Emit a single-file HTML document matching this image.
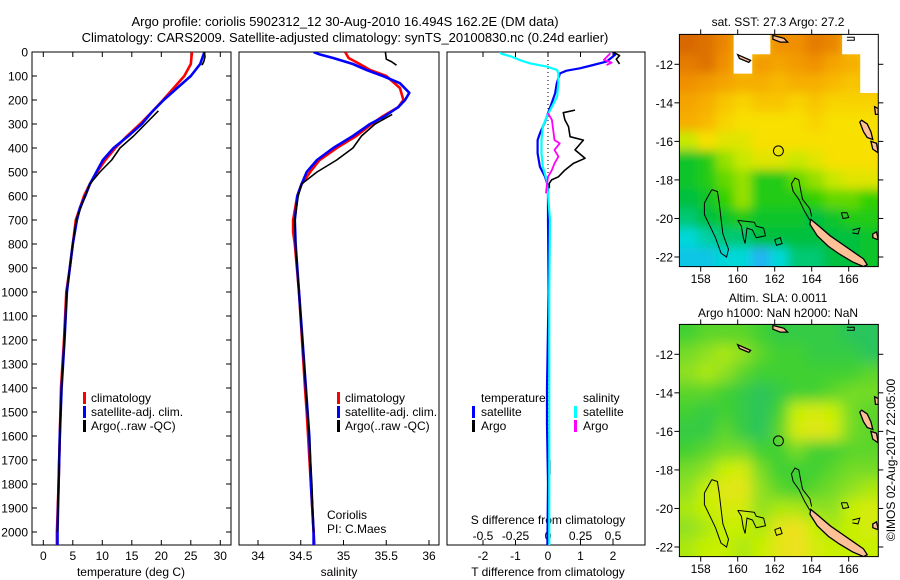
<!DOCTYPE html>
<html><head><meta charset="utf-8"><style>
html,body{margin:0;padding:0;background:#fff;}
svg{display:block;font-family:"Liberation Sans",sans-serif;}
text{font-family:"Liberation Sans",sans-serif;fill:#000;}
</style></head><body>
<svg id="fig" width="900" height="580" viewBox="0 0 900 580" xmlns="http://www.w3.org/2000/svg">
<defs>
<clipPath id="c1"><rect x="32" y="52" width="199" height="493"/></clipPath>
<clipPath id="c2"><rect x="239" y="52" width="200" height="493"/></clipPath>
<clipPath id="c3"><rect x="447" y="52" width="198" height="493"/></clipPath>
<clipPath id="cm1"><rect x="679.4" y="34.4" width="198.9" height="232.2"/></clipPath>
<clipPath id="cm2"><rect x="679.4" y="324.4" width="198.9" height="232.2"/></clipPath>
<filter id="blur" x="-5%" y="-5%" width="110%" height="110%"><feGaussianBlur stdDeviation="5"/></filter>
<filter id="blur2" x="-5%" y="-5%" width="110%" height="110%"><feGaussianBlur stdDeviation="7"/></filter>
</defs>
<text x="345" y="26" text-anchor="middle" font-size="13">Argo profile: coriolis 5902312_12 30-Aug-2010 16.494S 162.2E (DM data)</text>
<text x="345" y="42" text-anchor="middle" font-size="13">Climatology: CARS2009. Satellite-adjusted climatology: synTS_20100830.nc (0.24d earlier)</text>
<g id="layer"></g>
</svg>
<script>
// ---------- temperature profile data ----------
const tClimDepth=[0,50,100,150,200,250,300,350,400,450,500,550,600,700,800,900,1000,1200,1400,1600,1800,2000,2055];
const tClimVal=[25.2,25.0,23.9,22.1,20.3,18.4,16.4,14.2,12.2,10.5,9.1,7.9,6.9,5.5,5.0,4.5,3.9,3.5,3.0,2.8,2.6,2.3,2.3];
const tSatDepth=[0,50,100,150,200,250,300,350,400,450,500,550,600,650,700,800,900,1000,1200,1400,1600,1800,2000,2055];
const tSatVal=[27.3,26.6,25.0,22.7,20.4,18.4,16.7,14.4,11.9,10.1,9.0,7.9,7.1,6.2,5.7,5.0,4.5,4.0,3.6,3.1,2.8,2.6,2.4,2.4];
const tArgoDepth1=[0,20,40,55];
const tArgoVal1=[27.3,27.4,27.2,26.9];
const tArgoDepth2=[245,300,350,400,450,500,550,600,700,800,900,1000,1200,1400,1600,1800,2000];
const tArgoVal2=[19.5,17.3,15.3,13.0,11.6,9.6,7.9,7.1,5.6,5.0,4.5,4.0,3.6,3.1,2.8,2.6,2.4];
// ---------- salinity profile data ----------
const sClimDepth=[0,25,50,75,100,150,200,230,270,300,350,400,450,500,550,600,700,750,800,1000,1400,1500,2000,2055];
const sClimVal=[35.02,35.06,35.19,35.31,35.50,35.66,35.70,35.64,35.45,35.33,35.15,34.92,34.72,34.61,34.51,34.46,34.41,34.41,34.43,34.48,34.55,34.57,34.65,34.66];
const sSatDepth=[0,10,25,50,75,100,130,170,200,230,270,300,350,400,450,500,550,600,700,800,900,1000,1200,1400,1600,1800,2000,2055];
const sSatVal=[34.65,34.72,34.88,35.11,35.27,35.46,35.66,35.77,35.72,35.64,35.47,35.31,35.11,34.88,34.69,34.57,34.51,34.46,34.43,34.44,34.46,34.48,34.52,34.56,34.60,34.62,34.65,34.65];
const sArgoDepth1=[0,30,40,55];
const sArgoVal1=[35.49,35.50,35.56,35.62];
const sArgoDepth2=[260,300,350,400,450,500,550,600,700,800,1000,1200,1400,1600,1800,2000];
const sArgoVal2=[35.57,35.37,35.21,35.11,34.92,34.69,34.51,34.47,34.43,34.44,34.48,34.52,34.56,34.60,34.63,34.65];
// ---------- difference data ----------
const dTSatDepth=[0,12,40,54,68,78,89,130,172,214,255,290,339,367,422,478,520,561,700,1000,1400,1550,1800,2055];
const dTSatVal=[2.0,2.06,1.8,1.39,0.98,0.57,0.37,0.27,0.22,0.11,0.0,-0.09,-0.25,-0.32,-0.32,-0.25,-0.09,0.0,0.0,0.02,-0.03,-0.03,0.0,-0.02];
const dSSatDepth=[0,7,19,33,47,61,75,89,130,186,228,270,311,367,422,478,533,589,700,1000,1500,2055];
const dSSatVal=[-0.37,-0.36,-0.28,-0.22,-0.14,-0.01,0.07,0.08,0.08,0.07,0.03,-0.01,-0.04,-0.05,-0.05,-0.04,-0.01,0.0,0.015,0.01,0.01,0.01];
const dTArgoDepth1=[0,15,30,50];
const dTArgoVal1=[2.0,2.2,2.1,2.2];
const dTArgoDepth2=[242,253,283,311,353,367,408,443,464,492,520,533,547,568];
const dTArgoVal2=[0.83,0.47,0.52,0.63,0.68,1.09,0.83,1.14,0.78,0.52,0.32,0.11,0.04,0.04];
const dTArgoDepth3=[1700,1760];
const dTArgoVal3=[0.05,0.05];
const dSArgoDepth1=[5,33,44,54];
const dSArgoVal1=[0.48,0.43,0.49,0.45];
const dSArgoDepth2=[255,283,325,367,381,408,436,464,492,520,561,589];
const dSArgoVal2=[0.0,0.03,0.04,0.05,0.09,0.05,0.08,0.05,0.03,0.0,-0.01,-0.015];
// ---------- axes ticks ----------
const depthTicks=[0,100,200,300,400,500,600,700,800,900,1000,1100,1200,1300,1400,1500,1600,1700,1800,1900,2000];
const tempTicks=[0,5,10,15,20,25,30];
const salTicks=[34,34.5,35,35.5,36];
const dTTicks=[-2,-1,0,1,2];
const dSTicks=[-0.5,-0.25,0,0.25,0.5];
const dSTickLabels=["-0.5","-0.25","0","0.25","0.5"];
const latTicks=[-12,-14,-16,-18,-20,-22];
const lonTicks=[158,160,162,164,166];
// ---------- map grid data (1-degree cells, rows north->south) ----------
const sstGrid=[
[28.3,28.2,28.0,null,null,27.9,27.9,28.1,28.0,null,null],
[28.1,28.2,27.9,null,27.8,27.7,27.8,27.9,27.7,27.6,null],
[27.9,27.8,27.7,27.6,27.6,27.5,27.6,27.6,27.5,27.4,null],
[27.7,27.6,27.4,27.3,27.4,27.4,27.3,27.4,27.3,27.3,27.3],
[27.6,27.5,27.3,27.2,27.2,27.2,27.2,27.3,27.2,27.2,27.2],
[27.0,27.2,27.1,27.1,27.2,27.2,27.2,27.2,27.2,27.2,27.2],
[26.5,26.6,26.9,27.0,27.1,27.1,27.0,27.1,27.2,27.2,27.2],
[26.5,26.6,26.8,26.9,26.6,26.6,26.8,26.9,27.0,27.1,27.1],
[26.4,26.5,26.7,26.9,26.6,26.6,26.6,26.7,26.8,26.8,26.7],
[26.3,26.4,26.5,26.6,26.5,26.5,26.5,26.4,26.5,26.6,26.6],
[26.1,26.2,26.3,26.3,26.4,26.4,26.4,26.4,26.4,26.4,26.5],
[26.0,26.0,26.1,26.1,25.9,26.1,26.3,26.3,26.4,26.4,26.5]];
const slaGrid=[
[0.00,0.01,0.01,0.01,0.00,-0.01,-0.01,-0.01,-0.01,-0.02,-0.02],
[0.02,0.03,0.04,0.03,0.01,0.00,0.00,-0.01,-0.01,-0.01,-0.02],
[0.03,0.04,0.03,0.01,0.00,0.00,0.00,0.00,0.00,0.00,0.01],
[0.01,0.01,0.00,-0.01,-0.02,-0.01,0.00,0.00,0.01,0.02,0.02],
[0.00,-0.01,0.00,-0.01,-0.02,0.00,0.05,0.06,0.05,0.02,0.01],
[-0.01,-0.01,0.01,-0.01,-0.02,0.01,0.06,0.07,0.06,0.02,0.01],
[0.00,0.01,0.02,0.02,0.00,0.00,0.02,0.00,0.00,0.01,0.01],
[0.02,0.03,0.05,0.06,0.02,0.00,0.00,0.00,0.01,0.02,0.02],
[0.03,0.05,0.07,0.07,0.03,0.01,0.00,0.01,0.02,0.03,0.04],
[0.04,0.05,0.06,0.06,0.03,0.04,0.04,0.03,0.03,0.05,0.06],
[0.03,0.04,0.05,0.05,0.04,0.07,0.08,0.05,0.04,0.05,0.06],
[0.04,0.05,0.05,0.04,0.05,0.07,0.08,0.06,0.05,0.05,0.05]];
const argoLon=162.2, argoLat=-16.494;

const NS="http://www.w3.org/2000/svg";
const L=document.getElementById('layer');
function mk(tag,attrs,parent){const e=document.createElementNS(NS,tag);for(const k in attrs)e.setAttribute(k,attrs[k]);(parent||L).appendChild(e);return e;}
function txt(x,y,s,size,anchor,parent){const t=mk('text',{x:x,y:y,'font-size':size||12,'text-anchor':anchor||'start'},parent);t.textContent=s;return t;}

const yD=d=>52+d*0.24;
const xT=v=>43.3+v*5.9;
const xS=v=>258+(v-34)*85.5;
const xdT=v=>548+v*32.5;
const xdS=v=>548+v*130;

function line(depths,vals,xf,color,w,clip,name){
  const pts=depths.map((d,i)=>xf(vals[i]).toFixed(1)+','+yD(d).toFixed(1)).join(' ');
  const p=mk('polyline',{points:pts,fill:'none',stroke:color,'stroke-width':w,'stroke-linejoin':'round','clip-path':'url(#'+clip+')'});
  
  
  return p;
}
function frame(x,w,name){const r=mk('rect',{x:x,y:52,width:w,height:493,fill:'none',stroke:'#000','stroke-width':1});
  
  }

// panel 1
frame(32,199,'temperature-axes-frame');
depthTicks.forEach(d=>{
  mk('line',{x1:32,x2:37,y1:yD(d),y2:yD(d),stroke:'#000'});
  mk('line',{x1:226,x2:231,y1:yD(d),y2:yD(d),stroke:'#000'});
  const t=txt(28,yD(d)+4.5,String(d),12,'end');
  
  
});
tempTicks.forEach(v=>{
  mk('line',{x1:xT(v),x2:xT(v),y1:545,y2:540,stroke:'#000'});
  mk('line',{x1:xT(v),x2:xT(v),y1:52,y2:57,stroke:'#000'});
  const t=txt(xT(v),560,String(v),12,'middle');
  
  
});
let at=txt(131,576,'temperature (deg C)',12,'middle');


line(tClimDepth,tClimVal,xT,'#f00',2.6,'c1','temperature-climatology-line');
line(tSatDepth,tSatVal,xT,'#00f',2.6,'c1','temperature-satellite-line');
line(tArgoDepth1,tArgoVal1,xT,'#000',1.6,'c1','temperature-argo-line-top');
line(tArgoDepth2,tArgoVal2,xT,'#000',1.6,'c1','temperature-argo-line');

function legend(bx,tx,y0,items,name){
  items.forEach((it,i)=>{
    const y=y0+i*14;
    const r=mk('rect',{x:bx,y:y-10,width:3,height:12,fill:it[1]});
    
    
    const t=txt(tx,y,it[0],12);
    
    
  });
}
legend(83,91,402,[['climatology','#f00'],['satellite-adj. clim.','#00f'],['Argo(..raw -QC)','#000']],'temperature-legend');

// panel 2
frame(239,200,'salinity-axes-frame');
salTicks.forEach(v=>{
  mk('line',{x1:xS(v),x2:xS(v),y1:545,y2:540,stroke:'#000'});
  const t=txt(xS(v),560,String(v),12,'middle');
  
  
});
at=txt(339,576,'salinity',12,'middle');


line(sClimDepth,sClimVal,xS,'#f00',2.6,'c2','salinity-climatology-line');
line(sSatDepth,sSatVal,xS,'#00f',2.6,'c2','salinity-satellite-line');
line(sArgoDepth1,sArgoVal1,xS,'#000',1.6,'c2','salinity-argo-line-top');
line(sArgoDepth2,sArgoVal2,xS,'#000',1.6,'c2','salinity-argo-line');
legend(337,345,402,[['climatology','#f00'],['satellite-adj. clim.','#00f'],['Argo(..raw -QC)','#000']],'salinity-legend');
at=txt(327,519,'Coriolis',12);
at=txt(327,533,'PI: C.Maes',12);

// panel 3
frame(447,198,'difference-axes-frame');
mk('line',{x1:548,x2:548,y1:52,y2:545,stroke:'#000','stroke-dasharray':'1,3','stroke-width':1});
dTTicks.forEach(v=>{
  mk('line',{x1:xdT(v),x2:xdT(v),y1:545,y2:540,stroke:'#000'});
  mk('line',{x1:xdT(v),x2:xdT(v),y1:52,y2:57,stroke:'#000'});
  const t=txt(xdT(v),560,String(v),12,'middle');
  
  
});
dSTicks.forEach((v,i)=>{
  const t=txt(xdS(v),540,dSTickLabels[i],12,'middle');
  
  
});
at=txt(548,524,'S difference from climatology',12,'middle');
at=txt(548,576,'T difference from climatology',12,'middle');
line(dTSatDepth,dTSatVal,xdT,'#00f',2.2,'c3','t-difference-satellite-line');
line(dTArgoDepth1,dTArgoVal1,xdT,'#000',1.6,'c3','t-difference-argo-line-top');
line(dTArgoDepth2,dTArgoVal2,xdT,'#000',1.6,'c3','t-difference-argo-line');
line(dTArgoDepth3,dTArgoVal3,xdT,'#000',2,'c3','t-difference-argo-line-deep');
line(dSSatDepth,dSSatVal,xdS,'#0ff',2.2,'c3','s-difference-satellite-line');
line(dSArgoDepth1,dSArgoVal1,xdS,'#f0f',1.8,'c3','s-difference-argo-line-top');
line(dSArgoDepth2,dSArgoVal2,xdS,'#f0f',1.8,'c3','s-difference-argo-line');
at=txt(481,402,'temperature',12);
at=txt(583,402,'salinity',12);
legend(472,481,416,[['satellite','#00f'],['Argo','#000']],'t-difference-legend');
legend(574,583,416,[['satellite','#0ff'],['Argo','#f0f']],'s-difference-legend');

// ---------- maps ----------
const mx=lon=>700.7+(lon-158)*18.5;
const my=(lat,off)=>off+64.3+(-12-lat)*19.27;
function lerpColor(stops,v){
  if(v<=stops[0][0])return stops[0][1];
  for(let i=1;i<stops.length;i++){if(v<=stops[i][0]){const a=stops[i-1],b=stops[i];const f=(v-a[0])/(b[0]-a[0]);
    const ca=a[1].match(/\w\w/g).map(h=>parseInt(h,16)),cb=b[1].match(/\w\w/g).map(h=>parseInt(h,16));
    return 'rgb('+ca.map((c,j)=>Math.round(c+(cb[j]-c)*f)).join(',')+')';}}
  return stops[stops.length-1][1];
}
const sstStops=[[25.8,'#30a0ff'],[26.1,'#00d8d8'],[26.4,'#00c040'],[26.7,'#30d000'],[27.0,'#c8e800'],[27.2,'#f8e000'],[27.5,'#f8b800'],[27.9,'#f09000'],[28.3,'#d86800']];
const slaStops=[[-0.03,'#20c070'],[0.0,'#40d030'],[0.03,'#90e020'],[0.05,'#c8f000'],[0.08,'#f0e020']];
const lonW=10.75/11, latH=12.05/12;

const coasts=[
 {pink:true,pts:[[163.95,-20.05],[164.4,-20.4],[165.0,-20.9],[165.6,-21.3],[166.2,-21.7],[166.8,-22.1],[167.0,-22.4],[166.8,-22.5],[166.2,-22.25],[165.5,-21.85],[164.9,-21.45],[164.3,-20.9],[163.9,-20.3]]},
 {pink:false,pts:[[163.9,-20.1],[163.6,-19.6],[163.3,-19.0],[163.0,-18.6],[162.9,-18.2],[163.1,-17.9],[163.3,-18.0],[163.4,-18.5],[163.5,-19.0],[163.9,-19.5],[164.0,-19.9]]},
 {pink:false,pts:[[158.6,-18.5],[158.9,-18.6],[159.0,-19.2],[159.1,-20.0],[159.2,-20.8],[159.5,-21.6],[159.4,-22.0],[159.1,-21.8],[158.8,-21.0],[158.5,-20.4],[158.2,-19.8],[158.2,-19.2],[158.6,-18.5]]},
 {pink:false,pts:[[160.0,-20.1],[160.9,-20.2],[161.0,-20.4],[161.4,-20.5],[161.5,-20.9],[161.0,-21.0],[160.8,-20.6],[160.5,-20.5],[160.4,-21.3],[160.3,-21.0],[160.2,-20.4],[160.0,-20.1]]},
 {pink:false,pts:[[162.0,-21.1],[162.3,-21.0],[162.4,-21.3],[162.1,-21.4],[162.0,-21.1]]},
 {pink:false,pts:[[165.6,-19.7],[165.9,-19.7],[166.0,-19.95],[165.7,-20.0],[165.6,-19.7]]},
 {pink:false,pts:[[166.2,-20.6],[166.6,-20.5],[166.5,-20.8],[166.2,-20.75]]},
 {pink:true,pts:[[167.3,-20.8],[167.5,-20.7],[167.6,-21.1],[167.3,-21.0]]},
 {pink:true,pts:[[166.7,-14.9],[167.0,-15.1],[167.2,-15.5],[167.3,-15.9],[167.0,-15.8],[166.8,-15.5],[166.6,-15.0]]},
 {pink:true,pts:[[167.2,-16.0],[167.5,-16.1],[167.6,-16.6],[167.3,-16.4]]},
 {pink:true,pts:[[167.4,-14.2],[167.6,-14.3],[167.6,-14.6],[167.45,-14.6]]},
 {pink:true,pts:[[161.9,-10.5],[162.5,-10.65],[162.7,-10.85],[162.3,-10.85],[161.9,-10.7]]},
 {pink:true,pts:[[160.0,-11.5],[160.7,-11.8],[160.6,-11.9],[160.1,-11.7]]},
 {pink:false,pts:[[165.9,-10.6],[166.3,-10.6],[166.3,-10.75],[165.9,-10.75]]}
];

function drawMap(off,grid,stops,clip,blurId,name,bg){
  const g=mk('g',{'clip-path':'url(#'+clip+')'});
  
  
  mk('rect',{x:679.4,y:off+34.4,width:198.9,height:232.2,fill:bg},g);
  const cells=mk('g',{filter:'url(#'+blurId+')'},g);
  const nanLayer=mk('g',{},g);
  grid.forEach((row,r)=>row.forEach((v,c)=>{
    const lon0=156.85+c*lonW-(c==0?1:0), lon1=156.85+(c+1)*lonW+(c==10?1:0);
    const lat0=-10.45-r*latH+(r==0?1:0), lat1=-10.45-(r+1)*latH-(r==11?1:0);
    const cell=mk('rect',{x:mx(lon0),y:my(lat0,off),width:mx(lon1)-mx(lon0)+0.5,height:my(lat1,off)-my(lat0,off)+0.5,fill:v===null?'#fff':lerpColor(stops,v)},v===null?nanLayer:cells);
    
    
  }));
  coasts.forEach(cst=>{
    const pts=cst.pts.map(p=>mx(p[0]).toFixed(1)+','+my(p[1],off).toFixed(1)).join(' ');
    const el=mk(cst.pink?'polygon':'polyline',{points:pts,fill:cst.pink?'#fdc097':'none',stroke:'#000','stroke-width':cst.pink?1.3:1},g);
    
    
  });
  const circ=mk('circle',{cx:mx(argoLon),cy:my(argoLat,off),r:5,fill:'none',stroke:'#000','stroke-width':1},g);
  
  
  const fr=mk('rect',{x:679.4,y:off+34.4,width:198.9,height:232.2,fill:'none',stroke:'#000'});
  
  
  latTicks.forEach(v=>{
    const y=my(v,off);
    mk('line',{x1:674.4,x2:679.4,y1:y,y2:y,stroke:'#000'});
    mk('line',{x1:878.3,x2:883.3,y1:y,y2:y,stroke:'#000'});
    const t=txt(673,y+4.5,String(v),12,'end');
    
    
  });
  lonTicks.forEach(v=>{
    const x=mx(v);
    mk('line',{x1:x,x2:x,y1:off+34.4,y2:off+29.4,stroke:'#000'});
    mk('line',{x1:x,x2:x,y1:off+266.6,y2:off+271.6,stroke:'#000'});
    const t=txt(x,off+283,String(v),12,'middle');
    
    
  });
}
drawMap(0,sstGrid,sstStops,'cm1','blur','sst-map','#f8c000');
drawMap(290,slaGrid,slaStops,'cm2','blur2','sla-map','#70d828');
at=txt(778,26,'sat. SST: 27.3 Argo: 27.2',12,'middle');
at=txt(778,302,'Altim. SLA: 0.0011',12,'middle');
at=txt(778,317,'Argo h1000: NaN h2000: NaN',12,'middle');
at=mk('text',{x:0,y:0,'font-size':12,'text-anchor':'middle',transform:'translate(895,460) rotate(-90)'});
at.textContent='\u00A9IMOS 02-Aug-2017 22:05:00';


</script>
</body></html>
